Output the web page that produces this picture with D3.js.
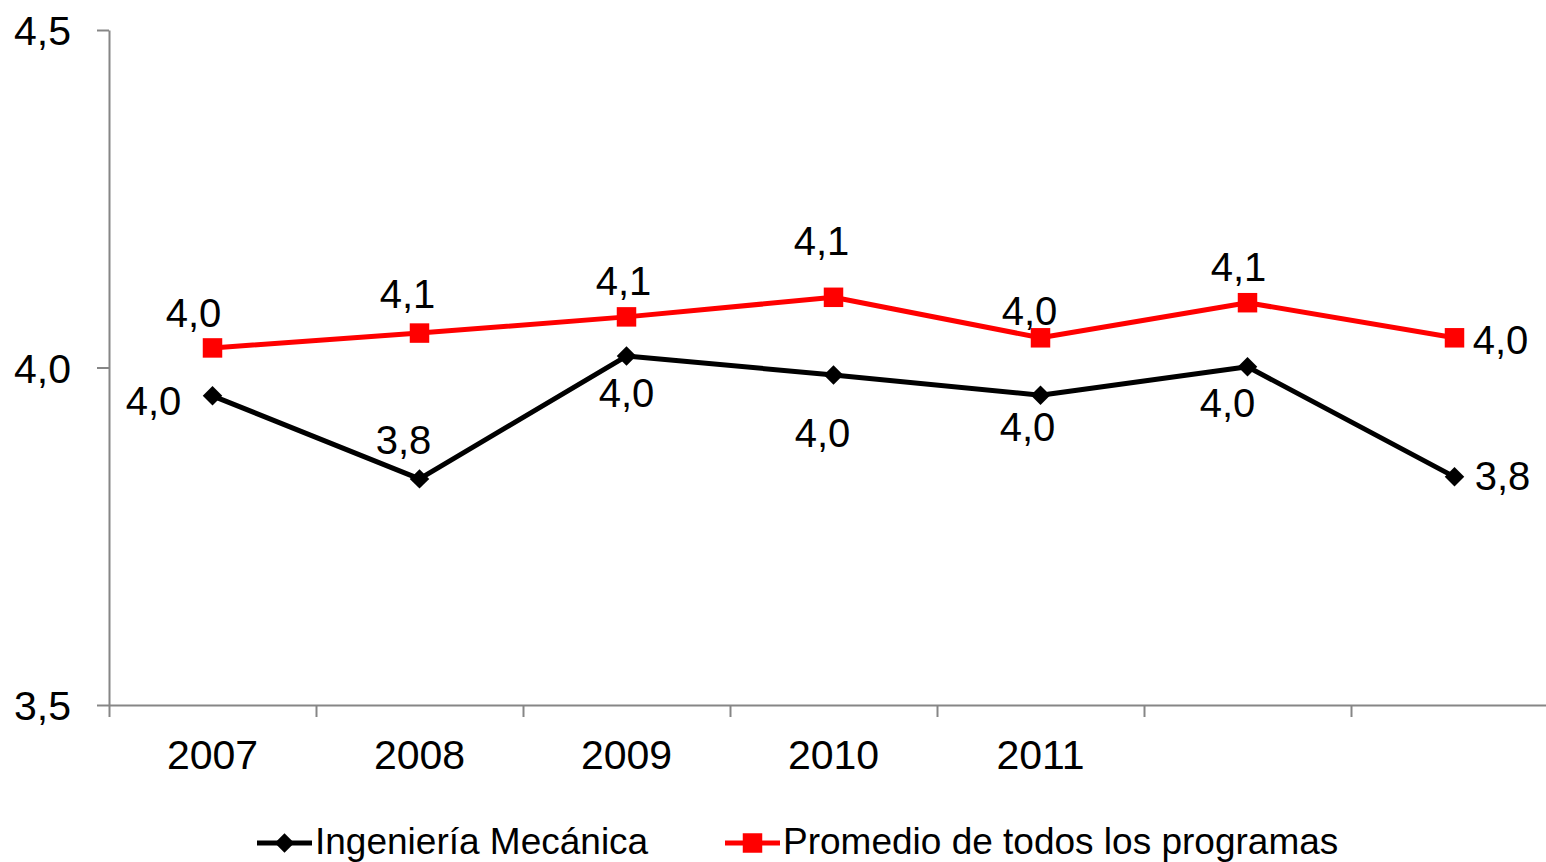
<!DOCTYPE html>
<html>
  <head>
    <meta http-equiv="Content-Type" content="text/html;charset=utf-8"/>
	<title>Ingeniería Mecánica vs promedio</title>
	<script src="https://cdn.jsdelivr.net/npm/d3@7"></script>
	<style>
		body { margin: 0; background: #ffffff; }
		svg { display: block; font-family: 'Liberation Sans', Arial, sans-serif; }
		.axis path, .axis line { stroke: #868686; stroke-width: 2; }
		.axis text { fill: #000000; font-size: 41px; }
		.dataLabel { font-size: 40px; fill: #000000; }
		.legendText { font-size: 37px; fill: #000000; }
	</style>
  </head>
  <body>
	<div id="chart"></div>
    <script>

		// categories (last two have no label in the original)
		var categories = ["2007", "2008", "2009", "2010", "2011", "", ""];

		var mecanica = [3.958, 3.835, 4.017, 3.989, 3.959, 4.001, 3.838];
		var promedio = [4.029, 4.051, 4.075, 4.104, 4.044, 4.096, 4.044];

		var seriesNames = ["Ingeniería Mecánica", "Promedio de todos los programas"];
		var yTicks = [3.5, 4.0, 4.5];

		// hand placed label offsets (centre of label relative to the point)
		var mecanicaLabelPos = [[-59,5],[-16,-39],[0,37],[-11,58],[-13,31],[-20,36],[48,-1]];
		var promedioLabelPos = [[-19,-35],[-12,-39],[-3,-36],[-12,-57],[-11,-27],[-9,-36],[46,2]];

		var W = 1546, H = 862;
		var margin = {left: 109, top: 30, right: -12, bottom: 157};

		var svg = d3.select("#chart").append("svg")
			.attr("width", W)
			.attr("height", H);

		var x = d3.scaleBand()
			.domain(d3.range(categories.length))
			.range([margin.left, W - margin.right])
			.paddingInner(0).paddingOuter(0);

		var xEdges = d3.scaleLinear()
			.domain([0, categories.length])
			.range([margin.left, W - margin.right]);

		var y = d3.scaleLinear()
			.domain([3.5, 4.5])
			.range([H - margin.bottom, margin.top]);

		var fmt = function(v) { return d3.format(".1f")(v).replace(".", ","); };

		// y axis
		svg.append("g")
			.attr("class", "axis")
			.attr("transform", "translate(" + margin.left + ",0)")
			.call(d3.axisLeft(y).tickValues(yTicks).tickFormat(fmt).tickSize(12).tickPadding(26).tickSizeOuter(0))
			.selectAll("text").attr("dy", "0.36em");

		// x axis: tick marks between categories
		svg.append("g")
			.attr("class", "axis")
			.attr("transform", "translate(0," + y(3.5) + ")")
			.call(d3.axisBottom(xEdges).ticks(categories.length).tickFormat("").tickSize(12).tickSizeOuter(0));

		// x axis labels centred in each band
		var xLab = svg.append("g")
			.attr("class", "axis")
			.attr("transform", "translate(0," + y(3.5) + ")")
			.call(d3.axisBottom(x).tickFormat(function(i) { return categories[i]; }).tickSize(0).tickPadding(35));
		xLab.select(".domain").remove();

		var series = [
			{name: seriesNames[0], values: mecanica, color: "#000000", symbol: "diamond", labels: mecanicaLabelPos},
			{name: seriesNames[1], values: promedio, color: "#ff0000", symbol: "square", labels: promedioLabelPos}
		];

		var line = d3.line()
			.x(function(d, i) { return x(i) + x.bandwidth() / 2; })
			.y(function(d) { return y(d); });

		function marker(sel, s) {
			if (s.symbol === "diamond") {
				sel.attr("d", d3.symbol(d3.symbolSquare, 190)())
					.attr("fill", s.color);
				return 45;
			}
			sel.attr("d", d3.symbol(d3.symbolSquare, 380)())
				.attr("fill", s.color);
			return 0;
		}

		series.forEach(function(s) {
			var g = svg.append("g");

			g.append("path")
				.datum(s.values)
				.attr("fill", "none")
				.attr("stroke", s.color)
				.attr("stroke-width", 5)
				.attr("stroke-linejoin", "round")
				.attr("d", line);

			g.selectAll("path.pt")
				.data(s.values)
			  .enter().append("path")
				.attr("class", "pt")
				.each(function(d, i) {
					var rot = marker(d3.select(this), s);
					d3.select(this).attr("transform", "translate(" + (x(i) + x.bandwidth() / 2) + "," + y(d) + ") rotate(" + rot + ")");
				});

			g.selectAll("text")
				.data(s.values)
			  .enter().append("text")
				.attr("class", "dataLabel")
				.attr("text-anchor", "middle")
				.attr("dy", "0.36em")
				.attr("x", function(d, i) { return x(i) + x.bandwidth() / 2 + s.labels[i][0]; })
				.attr("y", function(d, i) { return y(d) + s.labels[i][1]; })
				.text(fmt);
		});

		// legend
		var legendX = [257, 725];
		var legendY = 843;
		series.forEach(function(s, i) {
			var lg = svg.append("g").attr("transform", "translate(" + legendX[i] + "," + legendY + ")");
			lg.append("line")
				.attr("x1", 0).attr("x2", 55)
				.attr("stroke", s.color).attr("stroke-width", 5);
			var m = lg.append("path");
			var rot = marker(m, s);
			m.attr("transform", "translate(27.5,0) rotate(" + rot + ")");
			lg.append("text")
				.attr("class", "legendText")
				.attr("x", 58)
				.attr("y", 11)
				.text(s.name);
		});

	</script>
  </body>
</html>
